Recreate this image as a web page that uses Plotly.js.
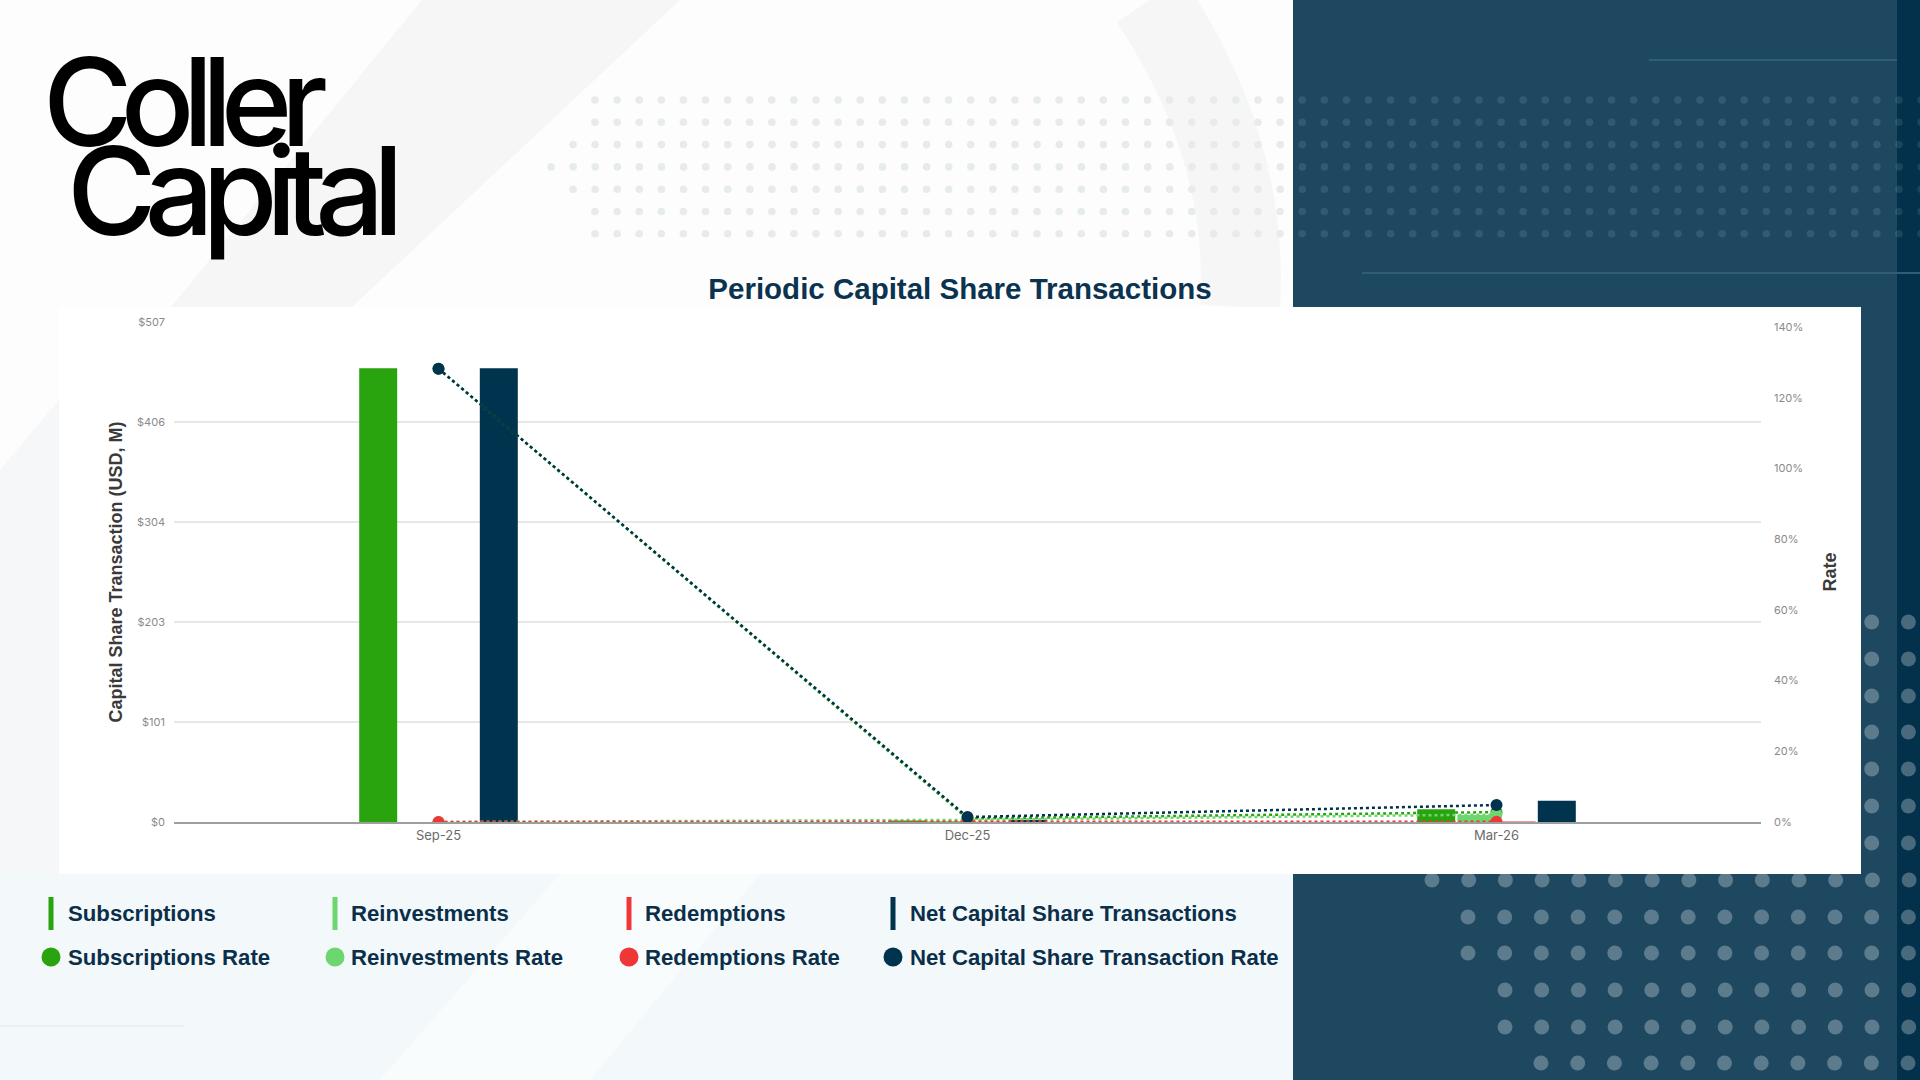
<!DOCTYPE html>
<html>
<head>
<meta charset="utf-8">
<script src="https://cdn.plot.ly/plotly-3.0.1.min.js"></script>
<style>
  html, body { margin: 0; padding: 0; }
  #page { position: relative; width: 1920px; height: 1080px; overflow: hidden; background: #fcfcfc; }
  #deco { position: absolute; left: 0; top: 0; }
  #chart { position: absolute; left: 0; top: 0; width: 1920px; height: 1080px; }
  #logo { position: absolute; left: 67px; top: 57px; font-family: Inter; font-weight: 500;
          font-size: 122px; line-height: 89px; text-indent: -24px; color: #000; white-space: pre; }
</style>
</head>
<body>
<div id="page">
  <svg id="deco" width="1920" height="1080" xmlns="http://www.w3.org/2000/svg"></svg>
  <div id="logo"></div>
  <div id="chart"></div>
</div>
<script>
// values
var periods = ['Sep-25', 'Dec-25', 'Mar-26']

var subscriptions = [460, 1.5, 13]
var reinvestments = [0, 1.0, 7]
var redemptions = [0, 0.2, 0.4]
var netTransactions = [460, 2.3, 21.5]

var subscriptionsRate = [128.2, 1.0, 2.8]
var reinvestmentsRate = [0, 0.6, 2.1]
var redemptionsRate = [0, 0.1, 0.1]
var netRate = [128.2, 1.4, 4.8]

var usdTicks = [0, 101.4, 202.8, 304.2, 405.6, 507]
var rateTicks = [0, 20, 40, 60, 80, 100, 120, 140]

var barNames = ['Subscriptions', 'Reinvestments', 'Redemptions', 'Net Capital Share Transactions']
var rateNames = ['Subscriptions Rate', 'Reinvestments Rate', 'Redemptions Rate', 'Net Capital Share Transaction Rate']
var colors = ['#29a40f', '#6dd66f', '#f03737', '#00334d']

var barValues = [subscriptions, reinvestments, redemptions, netTransactions]
var rateValues = [subscriptionsRate, reinvestmentsRate, redemptionsRate, netRate]

var NS = 'http://www.w3.org/2000/svg'
var deco = document.getElementById('deco')

function el(tag, attrs, text) {
    var node = document.createElementNS(NS, tag)
    for (var k in attrs) node.setAttribute(k, attrs[k])
    if (text !== undefined) node.textContent = text
    deco.appendChild(node)
    return node
}

// background
el('rect', {x: 0, y: 0, width: 1920, height: 1080, fill: '#fdfdfd'})
el('polygon', {points: '171,307 422,0 680,0 352,307', fill: '#f6f6f6'})
el('path', {d: 'M 1150 0 Q 1250 150 1240 307', fill: 'none', stroke: '#f6f6f6', 'stroke-width': 80})
el('rect', {x: 0, y: 874, width: 1293, height: 206, fill: '#f3f9fb'})
el('polygon', {points: '380,1080 560,874 760,874 590,1080', fill: '#f8fcfd'})
el('polygon', {points: '0,470 59,400 59,874 0,874', fill: '#f5f7f8'})
el('line', {x1: 0, y1: 1026, x2: 184, y2: 1026, stroke: '#e2eef3', 'stroke-width': 1.5})

// navy panel
el('rect', {x: 1293, y: 0, width: 627, height: 1080, fill: '#1e4860'})
el('rect', {x: 1897, y: 0, width: 23, height: 1080, fill: '#03304a'})
el('line', {x1: 1649, y1: 60, x2: 1897, y2: 60, stroke: '#2f6079', 'stroke-width': 2})
el('line', {x1: 1362, y1: 273, x2: 1920, y2: 273, stroke: '#2f5d75', 'stroke-width': 2})

// small dot grid at the top
var rowStart = [595, 595, 573, 551, 573, 595, 595]
for (var r = 0; r < 7; r++) {
    var cy = 100 + r * 22.3
    for (var cx = rowStart[r]; cx < 1925; cx += 22.1) {
        el('circle', {cx: cx, cy: cy, r: 3.8, fill: cx < 1293 ? '#e6ebee' : 'rgba(255,255,255,0.1)'})
    }
}

// large dot grid at the bottom right
var bigRows = [622, 659, 696, 732, 769, 806, 843, 880, 917, 953, 990, 1027, 1063]
var bigStart = [1468, 1468, 1468, 1468, 1468, 1468, 1468, 1432, 1468, 1468, 1505, 1505, 1541]
for (var b = 0; b < bigRows.length; b++) {
    for (var bx = bigStart[b]; bx < 1925; bx += 36.7) {
        el('circle', {cx: bx, cy: bigRows[b], r: 7.5, fill: 'rgba(255,255,255,0.28)'})
    }
}

// white chart panel
el('rect', {x: 59, y: 307, width: 1802, height: 567, fill: '#ffffff'})

// logo: one text block on two lines, letter spacing tightened to the reference widths
var logoWords = ['Coller', 'Capital']
var logoWidths = [282, 340]
var ctx = document.createElement('canvas').getContext('2d')
ctx.font = '500 122px Inter'
var spacing = 0
for (var w = 0; w < 2; w++) {
    spacing += (logoWidths[w] - ctx.measureText(logoWords[w]).width) / (logoWords[w].length - 1) / 2
}
var logoDiv = document.getElementById('logo')
logoDiv.style.letterSpacing = spacing + 'px'
logoDiv.textContent = logoWords.join('\n')

// legend
var legendMarkX = [51, 335, 629, 893]
var legendTextX = [68, 351, 645, 910]
for (var i = 0; i < 4; i++) {
    el('rect', {x: legendMarkX[i] - 2.5, y: 897, width: 5, height: 33, fill: colors[i]})
    el('text', {x: legendTextX[i], y: 921, 'font-family': 'Liberation Sans', 'font-weight': 700,
        'font-size': 22.2, fill: '#0b2f4a'}, barNames[i])
    el('circle', {cx: legendMarkX[i], cy: 957, r: 9.5, fill: colors[i]})
    el('text', {x: legendTextX[i], y: 965, 'font-family': 'Liberation Sans', 'font-weight': 700,
        'font-size': 22.2, fill: '#0b2f4a'}, rateNames[i])
}

// chart
var traces = []
for (var j = 0; j < 4; j++) {
    traces.push({
        type: 'bar',
        name: barNames[j],
        x: periods,
        y: barValues[j],
        yaxis: 'y',
        marker: {color: colors[j]}
    })
}
for (var k = 0; k < 4; k++) {
    traces.push({
        type: 'scatter',
        mode: 'lines+markers',
        name: rateNames[k],
        x: periods,
        y: rateValues[k],
        yaxis: 'y2',
        line: {color: colors[k], width: 2.5, dash: 'dot'},
        marker: {color: colors[k], size: 12}
    })
}

var tickFont = {family: 'Inter', size: 11, color: '#8a8a8a'}
var axisTitleFont = {family: 'Liberation Sans', size: 18, weight: 'bold', color: '#3a3a3a'}

var layout = {
    width: 1920,
    height: 1080,
    margin: {l: 174, r: 159, t: 322, b: 258},
    paper_bgcolor: 'rgba(0,0,0,0)',
    plot_bgcolor: 'rgba(0,0,0,0)',
    showlegend: false,
    barmode: 'group',
    bargap: 0.696,
    bargroupgap: 0.055,
    title: {
        text: 'Periodic Capital Share Transactions',
        x: 0.5, xref: 'container', xanchor: 'center',
        y: 1 - 289 / 1080, yref: 'container', yanchor: 'middle',
        font: {family: 'Liberation Sans', size: 29.5, weight: 'bold', color: '#0b3350'}
    },
    xaxis: {
        type: 'category',
        range: [-0.5, 2.5],
        showgrid: false,
        showline: true,
        linecolor: '#9e9e9e',
        linewidth: 2,
        ticks: '',
        tickfont: {family: 'Inter', size: 13, color: '#6b6b6b'}
    },
    yaxis: {
        range: [0, 507],
        tickvals: usdTicks,
        ticktext: usdTicks.map(function (v) { return '$' + Math.round(v) }),
        showgrid: true,
        gridcolor: '#e7e7e7',
        gridwidth: 2,
        zeroline: false,
        ticks: '',
        ticklabelstandoff: 8,
        tickfont: tickFont,
        title: {text: 'Capital Share Transaction (USD, M)', font: axisTitleFont, standoff: 9}
    },
    yaxis2: {
        overlaying: 'y',
        side: 'right',
        range: [0, 141.4],
        tickvals: rateTicks,
        ticktext: rateTicks.map(function (v) { return v + '%' }),
        showgrid: false,
        zeroline: false,
        ticks: '',
        ticklabelstandoff: 12,
        tickfont: tickFont,
        title: {text: 'Rate', font: axisTitleFont, standoff: 21}
    }
}

Plotly.newPlot('chart', traces, layout, {displayModeBar: false, staticPlot: true})
</script>
</body>
</html>
